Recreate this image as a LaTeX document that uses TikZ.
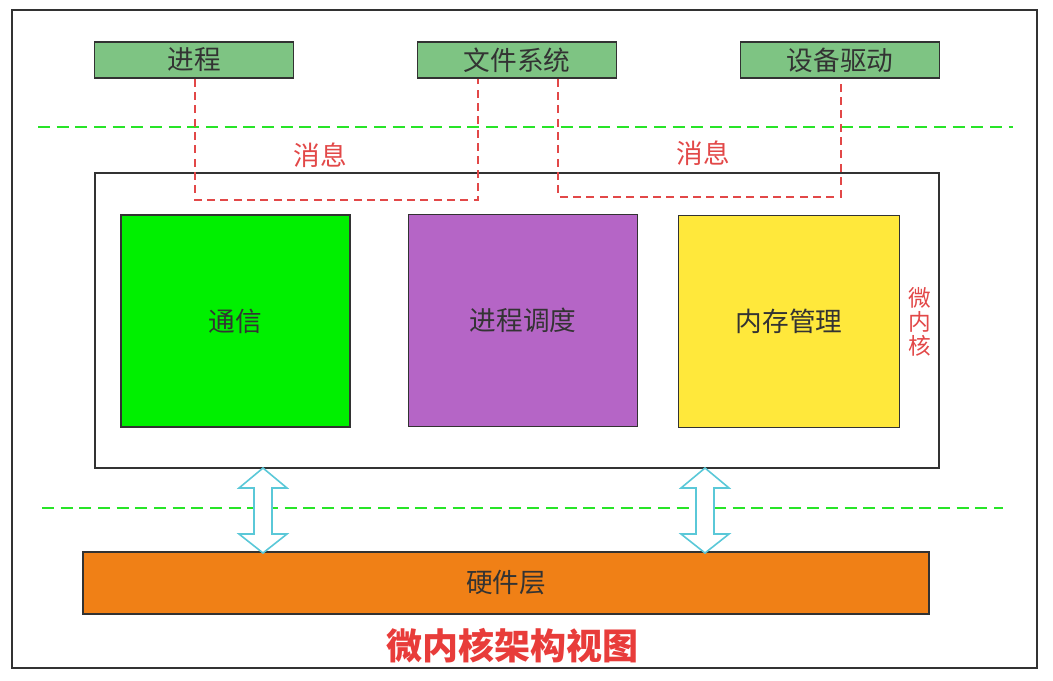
\documentclass[tikz,border=0pt]{standalone}
\usepackage{fontspec}
\newfontfamily\cjk{Noto Sans CJK SC}
\definecolor{boxgreen}{RGB}{126,196,131}
\definecolor{commgreen}{RGB}{0,240,0}
\definecolor{schedpurple}{RGB}{181,101,198}
\definecolor{memyellow}{RGB}{255,232,59}
\definecolor{hworange}{RGB}{240,128,22}
\definecolor{msgred}{RGB}{226,72,72}
\definecolor{titlered}{RGB}{232,60,58}
\definecolor{sepgreen}{RGB}{40,228,40}
\definecolor{arrowcyan}{RGB}{90,200,216}
\definecolor{edge}{RGB}{50,50,50}

\begin{document}
\begin{tikzpicture}[x=0.75pt,y=-0.75pt,
  every node/.style={font=\cjk\fontsize{20}{24}\selectfont,text=black!80},
  server/.style={draw=edge,line width=1.2pt,fill=boxgreen,minimum width=149pt,minimum height=27pt,inner sep=0pt},
  part/.style={draw=edge,line width=1.2pt,minimum width=172pt,minimum height=159pt,inner sep=0pt},
  msg/.style={draw=msgred,line width=1pt,dash pattern=on 6pt off 4pt},
  sep/.style={draw=sepgreen,line width=1pt,dash pattern=on 9pt off 5pt},
  hwarrow/.style={draw=arrowcyan,line width=1.2pt,fill=white,line join=miter}]
\useasboundingbox (0,0) rectangle (1053,681);
\draw [edge,line width=1.2pt](12,10) rectangle (1037,668);
% user space
\node[server] (proc) at (194,60) {进程};
\node[server] (fs) at (517,60) {文件系统};
\node[server] (dev) at (840,60) {设备驱动};
\draw [sep](38,127) -- (1013,127);
\draw [sep](42,508) -- (1003,508);
% kernel
\node[draw=edge,line width=1.2pt,minimum width=633pt,minimum height=221pt,inner sep=0pt] (kernel) at (517,320.5) {};
\node[part,fill=commgreen] (comm) at (235.5,321) {通信};
\node[part,fill=schedpurple] (sched) at (523,320.5) {进程调度};
\node[part,fill=memyellow,minimum width=166pt] (mem) at (789,321.5) {内存管理};
\node[text=msgred,align=center,font=\cjk\fontsize{17}{18}\selectfont] (micro) at (920,322) {微\\内\\核};
% messages
\draw [msg](proc.south -| 195,0) -- (195,200) -- (478,200) -- (fs.south -| 478,0);
\draw [msg](fs.south -| 558,0) -- (558,197) -- (841,197) -- (841,83);
\node[text=msgred] (msg1) at (320,155) {消息};
\node[text=msgred] (msg2) at (703,153) {消息};
% hardware
\node[draw=edge,line width=1.2pt,fill=hworange,minimum width=634.5pt,minimum height=46.5pt,inner sep=0pt] (hw) at (506,583) {硬件层};
\foreach \x in {263,705}
  \draw [hwarrow](\x,468) -- (\x+24,488) -- (\x+9,488) -- (\x+9,534) -- (\x+24,534) -- (\x,553)
    -- (\x-24,534) -- (\x-9,534) -- (\x-9,488) -- (\x-24,488) -- cycle;
\node[text=titlered,font=\cjk\bfseries\fontsize{27}{30}\selectfont] (title) at (512,646) {微内核架构视图};
\end{tikzpicture}
\end{document}
